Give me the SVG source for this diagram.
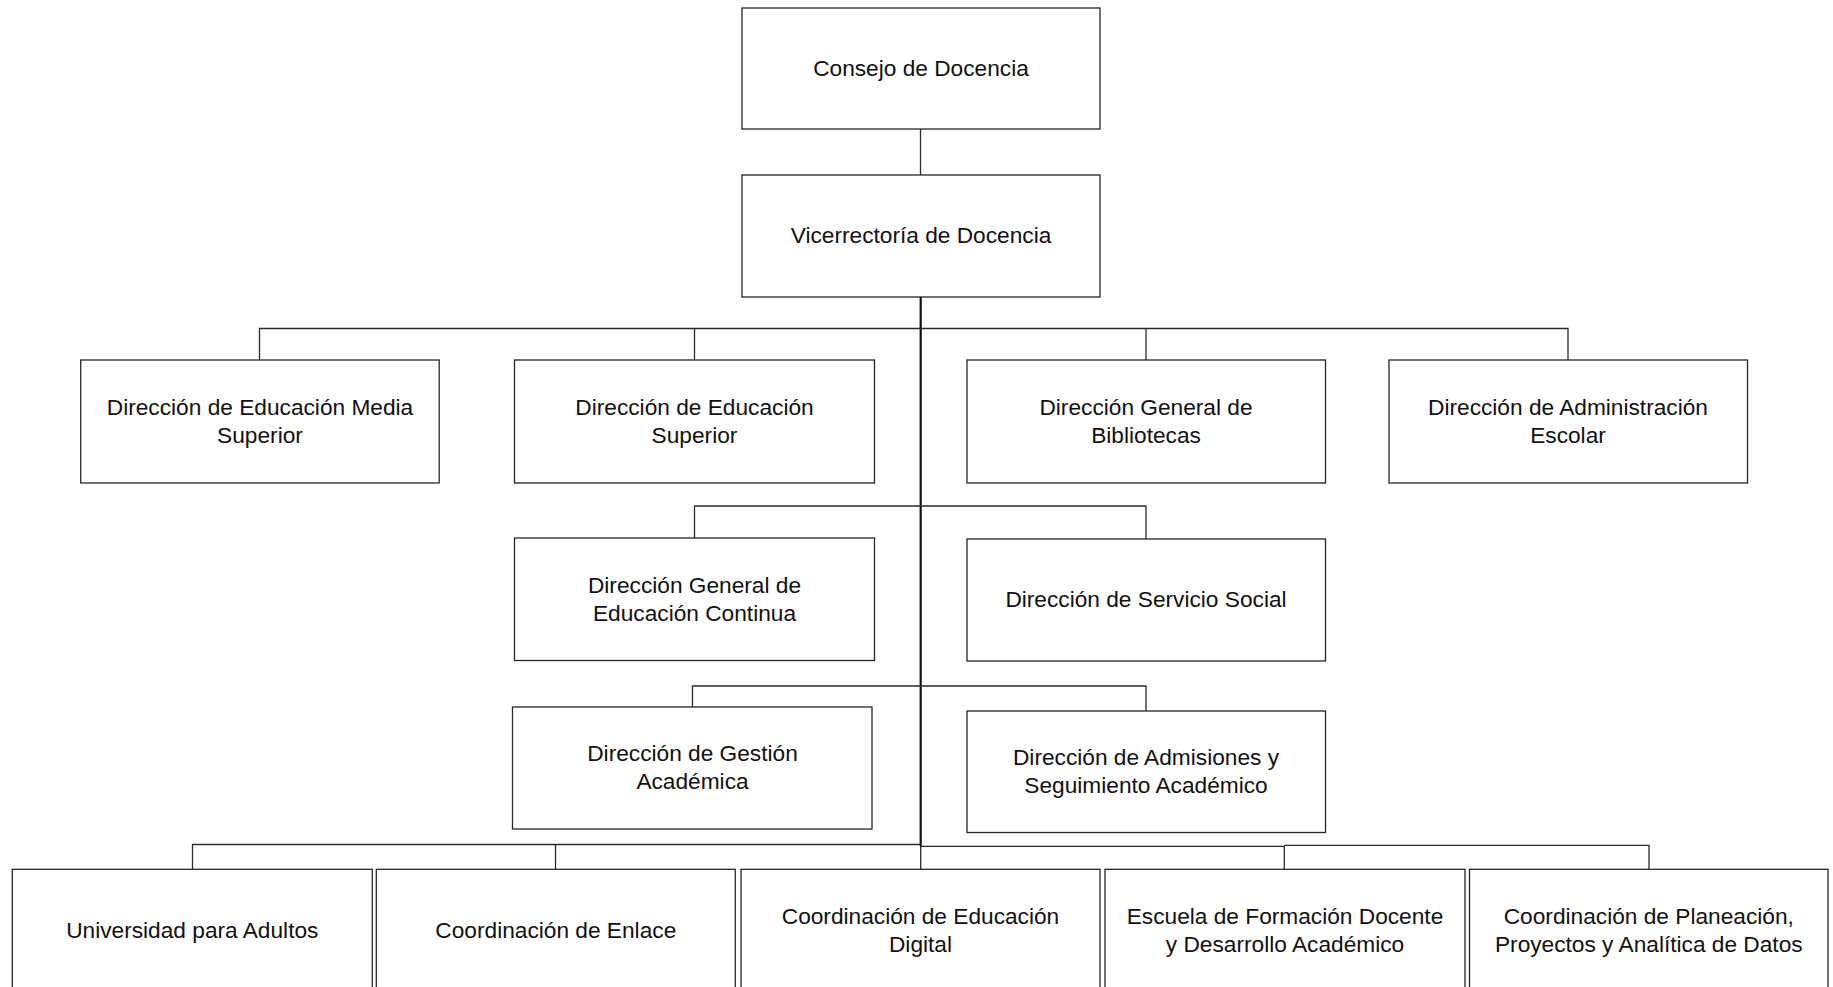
<svg xmlns="http://www.w3.org/2000/svg" width="1833" height="987" viewBox="0 0 1833 987">
  <style>
    .box { fill: #ffffff; stroke: #262626; stroke-width: 1.3; }
    .lbl { font-family: "Liberation Sans", Arial, sans-serif; font-size: 22.7px; fill: #111111; text-anchor: middle; }
    .wire { fill: none; stroke: #2a2a2a; stroke-width: 1.3; }
    .trunk { fill: none; stroke: #111111; stroke-width: 2.2; }
  </style>
  <rect width="1833" height="987" fill="#ffffff"/>

  <!-- connectors -->
  <g id="connectors">
    <path class="wire" d="M920.5 129 V175"/>
    <path class="trunk" d="M920.7 297 V846"/>
    <!-- first tier -->
    <path class="wire" d="M259.5 360 V328.5 H1568 V360"/>
    <path class="wire" d="M694.5 328.5 V360"/>
    <path class="wire" d="M1146 328.5 V360"/>
    <!-- second tier -->
    <path class="wire" d="M694.5 538 V506 H1146 V539"/>
    <!-- third tier -->
    <path class="wire" d="M692.5 707 V686 H1146 V711"/>
    <!-- bottom tier -->
    <path class="wire" d="M192.5 869.3 V844.5 H920.7"/>
    <path class="wire" d="M555.5 844.5 V869.3"/>
    <path class="wire" d="M920.7 846.3 H1284.3 V869.3"/>
    <path class="wire" d="M920.7 846 V869.3"/>
    <path class="wire" d="M1284.3 845.3 H1649 V869.3"/>
  </g>

  <g id="consejo">
    <rect class="box" x="742" y="8" width="358" height="121"/>
    <text class="lbl" x="921" y="75.5">Consejo de Docencia</text>
  </g>
  <g id="vicerrectoria">
    <rect class="box" x="742" y="175" width="358" height="122"/>
    <text class="lbl" x="921" y="243">Vicerrectoría de Docencia</text>
  </g>

  <g id="dir-media-superior">
    <rect class="box" x="80.7" y="360" width="358.5" height="123"/>
    <text class="lbl" x="260" y="414.5">Dirección de Educación Media</text>
    <text class="lbl" x="260" y="442.5">Superior</text>
  </g>
  <g id="dir-educacion-superior">
    <rect class="box" x="514.5" y="360" width="360" height="123"/>
    <text class="lbl" x="694.5" y="414.5">Dirección de Educación</text>
    <text class="lbl" x="694.5" y="442.5">Superior</text>
  </g>
  <g id="dir-bibliotecas">
    <rect class="box" x="967" y="360" width="358.5" height="123"/>
    <text class="lbl" x="1146" y="414.5">Dirección General de</text>
    <text class="lbl" x="1146" y="442.5">Bibliotecas</text>
  </g>
  <g id="dir-administracion-escolar">
    <rect class="box" x="1389" y="360" width="358.5" height="123"/>
    <text class="lbl" x="1568" y="414.5">Dirección de Administración</text>
    <text class="lbl" x="1568" y="442.5">Escolar</text>
  </g>

  <g id="dir-educacion-continua">
    <rect class="box" x="514.5" y="538" width="360" height="122.5"/>
    <text class="lbl" x="694.5" y="592.5">Dirección General de</text>
    <text class="lbl" x="694.5" y="620.5">Educación Continua</text>
  </g>
  <g id="dir-servicio-social">
    <rect class="box" x="967" y="539" width="358.5" height="122"/>
    <text class="lbl" x="1146" y="607">Dirección de Servicio Social</text>
  </g>

  <g id="dir-gestion-academica">
    <rect class="box" x="512.5" y="707" width="359.5" height="122"/>
    <text class="lbl" x="692.5" y="761">Dirección de Gestión</text>
    <text class="lbl" x="692.5" y="789">Académica</text>
  </g>
  <g id="dir-admisiones">
    <rect class="box" x="967" y="711" width="358.5" height="121.5"/>
    <text class="lbl" x="1146" y="764.5">Dirección de Admisiones y</text>
    <text class="lbl" x="1146" y="792.5">Seguimiento Académico</text>
  </g>

  <g id="universidad-adultos">
    <rect class="box" x="12.3" y="869.3" width="360" height="123"/>
    <text class="lbl" x="192.3" y="937.5">Universidad para Adultos</text>
  </g>
  <g id="coord-enlace">
    <rect class="box" x="376.3" y="869.3" width="359" height="123"/>
    <text class="lbl" x="555.8" y="937.5">Coordinación de Enlace</text>
  </g>
  <g id="coord-educacion-digital">
    <rect class="box" x="741" y="869.3" width="359" height="123"/>
    <text class="lbl" x="920.5" y="923.5">Coordinación de Educación</text>
    <text class="lbl" x="920.5" y="951.5">Digital</text>
  </g>
  <g id="escuela-formacion-docente">
    <rect class="box" x="1105" y="869.3" width="360" height="123"/>
    <text class="lbl" x="1285" y="923.5">Escuela de Formación Docente</text>
    <text class="lbl" x="1285" y="951.5">y Desarrollo Académico</text>
  </g>
  <g id="coord-planeacion">
    <rect class="box" x="1469.5" y="869.3" width="358.5" height="123"/>
    <text class="lbl" x="1648.8" y="923.5">Coordinación de Planeación,</text>
    <text class="lbl" x="1648.8" y="951.5">Proyectos y Analítica de Datos</text>
  </g>
</svg>
